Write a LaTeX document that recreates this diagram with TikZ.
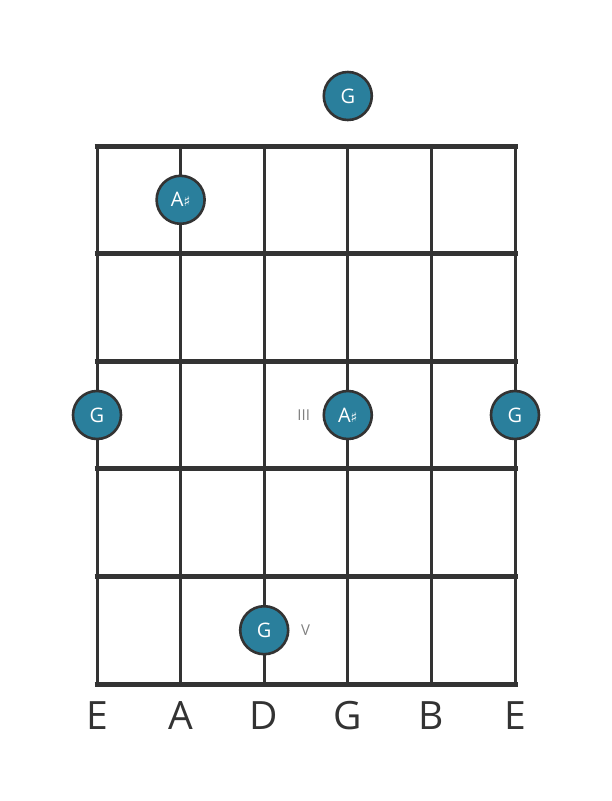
\documentclass[tikz,border=0pt]{standalone}
\usepackage{fontspec}
\setmainfont{Open Sans}
\newfontfamily\symfont{DejaVu Sans}
\usetikzlibrary{positioning}
\definecolor{notefill}{HTML}{2A7F9C}
\definecolor{linegray}{HTML}{333333}
\definecolor{fingergray}{HTML}{808080}
\begin{document}
\begin{tikzpicture}[x=1pt,y=-1pt,
    note/.style={circle, draw=linegray, line width=2.6pt, fill=notefill,
        minimum size=48pt, inner sep=0pt, text=white, font=\fontsize{20}{20}\selectfont},
    stringname/.style={text=linegray, font=\fontsize{39}{39}\selectfont},
    fretnum/.style={text=fingergray, font=\fontsize{15}{15}\selectfont}]
    \useasboundingbox (0,0) rectangle (611,801);

    % 画琴弦
    \foreach \s in {0,...,5} {
        \draw[linegray, line width=3pt] (97+83.6*\s,146) -- (97+83.6*\s,684);
    }

    % 画品丝
    \foreach \f in {0,...,5} {
        \draw[linegray, line width=5pt] (94.5,146+107.6*\f) -- (517.5,146+107.6*\f);
    }

    % 弦名
    \foreach \n [count=\i from 0] in {E,A,D,G,B,E} {
        \node[stringname] (str\i) at (97+83.6*\i,716) {\n};
    }

    % 音符
    \node[note] (g0) at (347.8,96) {G};
    \node[note] (as1) at (180.6,199.8) {A{\symfont\fontsize{14}{14}\selectfont♯}};
    \node[note] (g3a) at (97,415) {G};
    \node[note] (as3) at (347.8,415) {A{\symfont\fontsize{14}{14}\selectfont♯}};
    \node[note] (g3b) at (515,415) {G};
    \node[note] (g5) at (264.2,630.2) {G};

    % 品位标记
    \node[fretnum, left=9pt of as3] (pos3) {III};
    \node[fretnum, right=8pt of g5] (pos5) {V};
\end{tikzpicture}
\end{document}
